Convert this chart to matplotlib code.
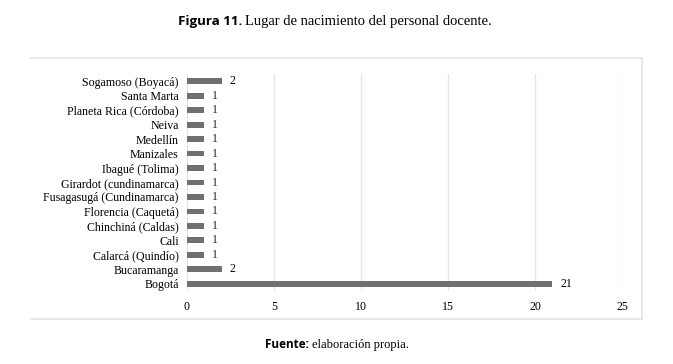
import matplotlib.pyplot as plt
from matplotlib.lines import Line2D

# data, top to bottom as shown
places = ['Sogamoso (Boyacá)', 'Santa Marta', 'Planeta Rica (Córdoba)', 'Neiva',
          'Medellín', 'Manizales', 'Ibagué (Tolima)', 'Girardot (cundinamarca)',
          'Fusagasugá (Cundinamarca)', 'Florencia (Caquetá)', 'Chinchiná (Caldas)',
          'Cali', 'Calarcá (Quindío)', 'Bucaramanga', 'Bogotá']
counts = [2, 1, 1, 1, 1, 1, 1, 1, 1, 1, 1, 1, 1, 2, 21]
xticks = [0, 5, 10, 15, 20, 25]

W, H = 673, 364
fig = plt.figure(figsize=(W / 100, H / 100), dpi=100)
ax = fig.add_axes([187 / W, 1 - 291 / H, 435 / W, 217 / H])

ypos = list(range(len(places)))[::-1]
ax.barh(ypos, counts, height=0.4, color='#707070', zorder=3)
for y, v in zip(ypos, counts):
    col = '#1f1f66' if v == 1 else 'black'
    ax.text(v + 0.45, y, str(v), va='center', ha='left', fontsize=8.6,
            family='Liberation Serif', color=col)

ax.set_xlim(0, 25)
ax.set_ylim(-0.5, len(places) - 0.5)
ax.set_yticks(ypos)
ax.set_yticklabels(places, family='Liberation Serif', fontsize=8.6)
ax.set_xticks(xticks)
ax.set_xticklabels([str(t) for t in xticks], family='Liberation Serif', fontsize=8.6)
ax.tick_params(length=0, pad=6)
ax.tick_params(axis='x', pad=7)
ax.grid(axis='x', color='#e6e6e6', lw=1, zorder=0)
for s in ax.spines.values():
    s.set_visible(False)

# light chart frame
fc = '#e4e4e4'
fig.add_artist(Line2D([31 / W, 642 / W], [1 - 58 / H, 1 - 58 / H], color=fc, lw=1.2))
fig.add_artist(Line2D([31 / W, 642 / W], [1 - 319 / H, 1 - 319 / H], color=fc, lw=1.2))
fig.add_artist(Line2D([642 / W, 642 / W], [1 - 58 / H, 1 - 319 / H], color=fc, lw=1.2))

# caption texts
t1 = fig.text(178 / W, 1 - 21 / H, 'Figura 11.', fontsize=9.6, weight='bold',
              family='Open Sans', va='center', ha='left')
fig.canvas.draw()
bb = t1.get_window_extent()
fig.text(bb.x1 / W + 0.004, 1 - 21 / H, 'Lugar de nacimiento del personal docente.',
         fontsize=10.5, family='Liberation Serif', va='center', ha='left')

t2 = fig.text(265 / W, 1 - 345 / H, 'Fuente:', fontsize=8.5, weight='bold',
              family='Open Sans', va='center', ha='left')
fig.canvas.draw()
bb = t2.get_window_extent()
fig.text(bb.x1 / W + 0.004, 1 - 345 / H, 'elaboración propia.',
         fontsize=9, family='Liberation Serif', va='center', ha='left')

fig.savefig('out.png', dpi=100)
